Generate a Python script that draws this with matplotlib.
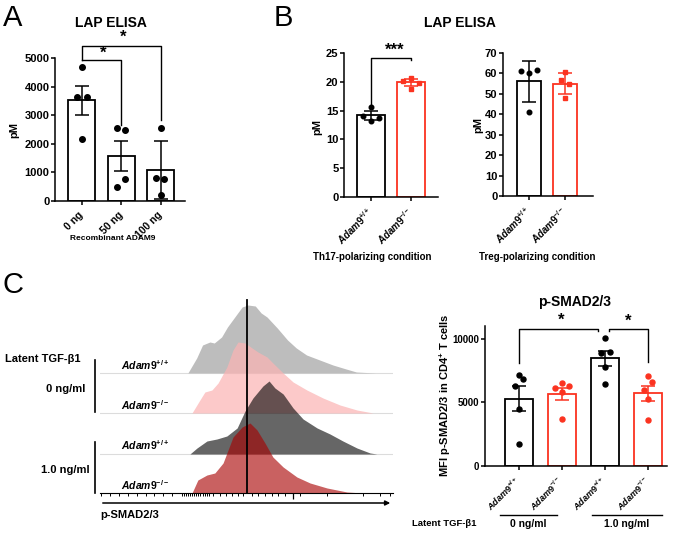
import numpy as np
import matplotlib
matplotlib.use('Agg')
import matplotlib.pyplot as plt

plt.rcParams['font.family'] = ['Liberation Sans', 'DejaVu Sans']
plt.rcParams['font.weight'] = 'bold'
plt.rcParams['mathtext.fontset'] = 'custom'
plt.rcParams['mathtext.it'] = 'Liberation Sans:italic:bold'
plt.rcParams['mathtext.rm'] = 'Liberation Sans:bold'
plt.rcParams['mathtext.bf'] = 'Liberation Sans:bold'

# ---- A: LAP ELISA with recombinant ADAM9
a_labels = ['0 ng', '50 ng', '100 ng']
a_mean = [3520, 1580, 1080]
a_sem = [510, 530, 1010]
a_pts = [[4690, 3640, 3620, 2160], [2560, 2480, 760, 500], [2560, 810, 760, 210]]
a_jit = [[0, -0.13, 0.13, 0], [-0.1, 0.1, 0.1, -0.1], [0, -0.13, 0.08, 0]]

# ---- B: LAP ELISA, Th17 / Treg polarizing
geno = [r'$\mathit{Adam9}^{+/+}$', r'$\mathit{Adam9}^{-/-}$']
th17_mean = [14.2, 19.9]
th17_err = [0.8, 0.6]
th17_pts = [[15.55, 14.05, 13.25, 13.8], [20.7, 20.2, 19.8, 18.8]]
th17_jit = [[0, -0.21, 0, 0.21], [0, -0.19, 0.21, 0]]
treg_mean = [56.1, 54.9]
treg_err = [10.1, 5.1]
treg_pts = [[61.0, 60.2, 61.8, 40.9], [60.5, 56.6, 54.8, 47.9]]
treg_jit = [[-0.23, 0, 0.23, 0], [0, -0.12, 0.12, 0]]

# ---- C: p-SMAD2/3 histograms (intensity, height)
h1_x = [30, 33, 35, 37.5, 39, 41.5, 43.5, 46, 48.5, 50.5, 53, 55, 57, 60.5, 64, 67, 70.5, 75, 79.5, 84, 87.5, 94]
h1_y = [0, 15, 28, 31, 30, 36, 46, 56, 66, 68, 67, 60, 56, 45, 33, 25, 18, 13, 8, 4, 1, 0]
h2_x = [31.4, 34.1, 35.8, 38.2, 40.3, 43.3, 45.4, 47.1, 49.5, 51.9, 53.9, 57, 59, 62.5, 65.9, 70.6, 76.1, 81.9, 87.7, 93.2]
h2_y = [0, 13, 21, 23, 30, 46, 63, 71, 70, 65, 61, 56, 50, 40, 31, 23, 15, 8, 3, 0]
h3_x = [30.7, 33.1, 36.5, 39.9, 43.3, 46.8, 49.5, 52.2, 55.6, 57.7, 59.7, 62.5, 65.9, 69.3, 74.1, 78.5, 82.9, 87.7, 92.2, 94.5]
h3_y = [0, 6, 13, 15, 18, 26, 43, 56, 68, 73, 66, 60, 46, 35, 26, 20, 13, 6, 1, 0]
h4_x = [31.4, 33.4, 36.5, 39.2, 42, 45.4, 48.5, 51.2, 53.6, 56.3, 59, 62.5, 67.2, 71.7, 77.5, 84.3, 89.8]
h4_y = [0, 13, 18, 20, 30, 56, 66, 70, 63, 50, 36, 26, 16, 10, 5, 1, 0]
hist_gate = 50.2

# ---- C: MFI bar chart
c_mean = [5290, 5665, 8460, 5720]
c_sem = [970, 490, 615, 600]
c_pts = [[7180, 6860, 6300, 4470, 1760],
         [6100, 6550, 6250, 5800, 3700],
         [10080, 8860, 8990, 7790, 6460],
         [7070, 6600, 6010, 5270, 3620]]
c_jit = [[0, 0.09, -0.1, 0, 0], [-0.17, 0, 0.17, 0, 0],
         [0, -0.1, 0.12, 0, 0], [0, 0.1, -0.09, 0, 0]]

RED = '#fb3320'
W, H = 677, 533
fig = plt.figure(figsize=(W / 100, H / 100), dpi=100)


def box(l, t, r, b):
    return fig.add_axes([l / W, 1 - b / H, (r - l) / W, (b - t) / H])


def ftext(x, y, s, **kw):
    fig.text(x / W, 1 - y / H, s, **kw)


def prism(ax, size=8):
    for s in ['top', 'right']:
        ax.spines[s].set_visible(False)
    for s in ['left', 'bottom']:
        ax.spines[s].set_linewidth(1.1)
    ax.tick_params(direction='out', length=3, width=1.1, labelsize=size, pad=1)


def bars(ax, means, errs, pts, jit, colors, markers, width, ms):
    xs = np.arange(len(means))
    for i in xs:
        ax.bar(i, means[i], width=width, color='white', edgecolor=colors[i],
               linewidth=1.3, zorder=2)
        ax.plot(i + np.array(jit[i]), pts[i], ls='none', marker=markers[i],
                color=colors[i], ms=ms, zorder=4, clip_on=False)
        ax.errorbar(i, means[i], yerr=errs[i], fmt='none', ecolor=colors[i],
                    elinewidth=1.1, capsize=5, capthick=1.1, zorder=3)
    ax.set_xticks(xs)


def bracket(ax, x0, x1, y, y0, y1):
    ax.plot([x0, x0, x1, x1], [y0, y, y, y1], color='black', lw=1.0, clip_on=False)


# ================= A
axA = box(55, 58, 185, 201)
prism(axA)
bars(axA, a_mean, a_sem, a_pts, a_jit, ['black'] * 3, ['o'] * 3, 0.68, 4)
axA.set_xlim(-0.68, 2.61)
axA.set_ylim(0, 5000)
axA.set_yticks(range(0, 5001, 1000))
axA.set_xticklabels(a_labels, rotation=45, ha='right', va='center',
                    rotation_mode='anchor', fontsize=7.5)
axA.tick_params(axis='x', pad=6)
bracket(axA, 0, 1, 4930, 4930, 2660)
bracket(axA, 0, 2, 5430, 4930, 2830)
axA.text(0.54, 5150, '*', ha='center', va='center', fontsize=12)
axA.text(1.05, 5710, '*', ha='center', va='center', fontsize=12)
ftext(14, 130, 'pM', rotation=90, ha='center', va='center', fontsize=8)
ftext(111, 23, 'LAP ELISA', ha='center', va='center', fontsize=10)
ftext(113, 239, 'Recombinant ADAM9', ha='center', va='center', fontsize=6)
ftext(3, 18, 'A', ha='left', va='center', fontsize=21, fontweight='normal')

# ================= B
axB1 = box(344, 53, 438, 197)
prism(axB1)
bars(axB1, th17_mean, th17_err, th17_pts, th17_jit, ['black', RED], ['o', 's'], 0.7, 3.3)
axB1.set_xlim(-0.675, 1.675)
axB1.set_ylim(0, 25)
axB1.set_yticks(range(0, 26, 5))
axB1.set_xticklabels(geno, rotation=45, ha='right', va='center',
                     rotation_mode='anchor', fontsize=7)
axB1.tick_params(axis='x', pad=6)
bracket(axB1, 0, 1, 24.2, 15.95, 23.7)
axB1.text(0.6, 25.5, '***', ha='center', va='center', fontsize=12)
ftext(317, 127, 'pM', rotation=90, ha='center', va='center', fontsize=8)

axB2 = box(503, 53, 593, 196)
prism(axB2)
bars(axB2, treg_mean, treg_err, treg_pts, treg_jit, ['black', RED], ['o', 's'], 0.67, 3.3)
axB2.set_xlim(-0.72, 1.78)
axB2.set_ylim(0, 70)
axB2.set_yticks(range(0, 71, 10))
axB2.set_xticklabels(geno, rotation=45, ha='right', va='center',
                     rotation_mode='anchor', fontsize=7)
axB2.tick_params(axis='x', pad=6)
ftext(478, 125, 'pM', rotation=90, ha='center', va='center', fontsize=8)

ftext(460, 23, 'LAP ELISA', ha='center', va='center', fontsize=10)
ftext(372, 257, 'Th17-polarizing condition', ha='center', va='center', fontsize=7)
ftext(537, 257, 'Treg-polarizing condition', ha='center', va='center', fontsize=7)
ftext(274, 18, 'B', ha='left', va='center', fontsize=21, fontweight='normal')

# ================= C histograms
axH = box(100, 290, 393, 493)
axH.set_xlim(0, 100)
axH.set_ylim(0, 203)
offsets = [120, 80, 39, 0]
hx = [h1_x, h2_x, h3_x, h4_x]
hy = [h1_y, h2_y, h3_y, h4_y]
hcol = [('#bdbdbd', 1.0), ('#fbb4b4', 0.72), ('#000000', 0.6), ('#a80000', 0.62)]
for xs, ys, (col, al), off in zip(hx, hy, hcol, offsets):
    if off > 0:
        axH.plot([0, 100], [off, off], color='#dcdcdc', lw=0.8, zorder=1)
    axH.fill_between(xs, off, np.array(ys) + off, color=col, alpha=al, lw=0, zorder=2)
axH.plot([hist_gate, hist_gate], [0, 193], color='black', lw=1.3, zorder=5)
for s in ['top', 'right', 'left']:
    axH.spines[s].set_visible(False)
axH.spines['bottom'].set_linewidth(0.8)
axH.set_yticks([])
minor = list(np.arange(0.3, 27, 3.05)) + list(np.arange(28, 37.5, 0.7)) + \
    [38.6, 41, 43, 45, 47.1, 48.8, 51.9, 53.9, 56.3, 58.7, 60.8, 63.1, 68.3, 77.5, 89.8, 95.6, 99]
axH.set_xticks(minor, minor=True)
axH.set_xticks([65.9])
axH.set_xticklabels([])
axH.tick_params(axis='x', which='minor', length=2.2, width=0.7)
axH.tick_params(axis='x', which='major', length=4, width=0.9)
axH.annotate('', xy=(1.0, -10 / 203), xytext=(0, -10 / 203), xycoords='axes fraction',
             arrowprops=dict(arrowstyle='-|>', lw=1.1, color='black', mutation_scale=7))
ftext(100, 515, 'p-SMAD2/3', ha='left', va='center', fontsize=8)

row_names = [r'$\mathit{Adam9}^{+/+}$', r'$\mathit{Adam9}^{-/-}$',
             r'$\mathit{Adam9}^{+/+}$', r'$\mathit{Adam9}^{-/-}$']
for name, off in zip(row_names, offsets):
    axH.text(7, off + 1.5, name, ha='left', va='bottom', fontsize=7.5, zorder=6)

ftext(5, 359, 'Latent TGF-β1', ha='left', va='center', fontsize=8)
ftext(85, 389, '0 ng/ml', ha='right', va='center', fontsize=8)
ftext(90, 470, '1.0 ng/ml', ha='right', va='center', fontsize=8)
fig.add_artist(plt.Line2D([94.5 / W, 94.5 / W], [1 - 360 / H, 1 - 412 / H], color='black', lw=1.2))
fig.add_artist(plt.Line2D([94.5 / W, 94.5 / W], [1 - 442 / H, 1 - 493 / H], color='black', lw=1.2))
ftext(2, 285, 'C', ha='left', va='center', fontsize=21, fontweight='normal')

# ================= C bar chart
axC = box(485, 326, 667, 466)
prism(axC, 7)
ccol = ['black', RED, 'black', RED]
bars(axC, c_mean, c_sem, c_pts, c_jit, ccol, ['o'] * 4, 0.65, 3.6)
axC.set_xlim(-0.79, 3.44)
axC.set_ylim(0, 11000)
axC.set_yticks([0, 5000, 10000])
axC.set_xticklabels(geno * 2, rotation=45, ha='right', va='center',
                    rotation_mode='anchor', fontsize=6.5)
axC.tick_params(axis='x', pad=6)
bracket(axC, 0, 1.84, 10740, 8085, 10580)
bracket(axC, 2.09, 3, 10740, 10580, 8140)
axC.text(0.98, 11460, '*', ha='center', va='center', fontsize=12)
axC.text(2.53, 11380, '*', ha='center', va='center', fontsize=12)
ftext(575, 302, 'p-SMAD2/3', ha='center', va='center', fontsize=10)
ftext(445, 395, 'MFI p-SMAD2/3 in CD4$^{+}$ T cells', rotation=90, ha='center',
      va='center', fontsize=8)
ftext(477, 524, 'Latent TGF-β1', ha='right', va='center', fontsize=6.8)
ftext(528, 524, '0 ng/ml', ha='center', va='center', fontsize=7.5)
ftext(627, 524, '1.0 ng/ml', ha='center', va='center', fontsize=7.5)
fig.add_artist(plt.Line2D([500 / W, 557 / W], [1 - 515 / H, 1 - 515 / H], color='black', lw=1.0))
fig.add_artist(plt.Line2D([592 / W, 662 / W], [1 - 515 / H, 1 - 515 / H], color='black', lw=1.0))

fig.savefig('out.png', dpi=100)
